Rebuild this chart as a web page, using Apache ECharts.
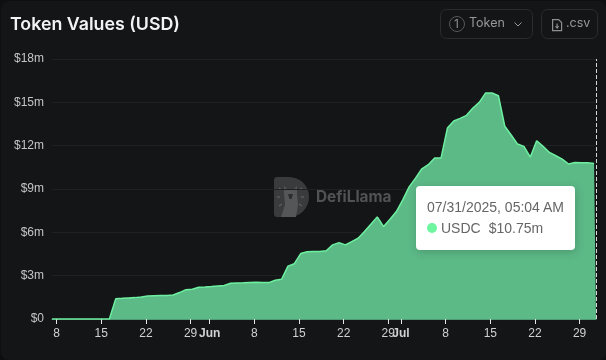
<!doctype html>
<html lang="en">

<head>
  <meta charset="UTF-8">
  <title>Token Values (USD)</title>
  <style>
    html, body { margin: 0; padding: 0; background: #0e0f10; }
    #chart {
      width: 605px;
      height: 359px;
      position: absolute;
      left: 1px;
      top: 1px;
      box-sizing: border-box;
      background: #141517;
      border-radius: 8px;
    }
  </style>
  <script src="https://cdn.jsdelivr.net/npm/echarts@6/dist/echarts.min.js"></script>
</head>

<body>
  <div id="chart"></div>
  <script>
    var FONT = 'Inter, sans-serif';
    var AXIS_FONT = '"Liberation Sans", Arial, sans-serif';

    // token value in $m, one reading per day from the first point
    var usdc = [
      0, 0, 0, 0, 0, 0, 0, 0, 0, 0,
      1.41, 1.43, 1.46, 1.48, 1.53, 1.59, 1.61, 1.62, 1.63, 1.66,
      1.83, 2.03, 2.06, 2.2, 2.22, 2.25, 2.29, 2.32, 2.47, 2.5,
      2.51, 2.53, 2.54, 2.52, 2.52, 2.68, 2.75, 3.66, 3.83, 4.53,
      4.65, 4.67, 4.68, 4.72, 5.13, 5.29, 5.13, 5.36, 5.59, 6.06,
      6.56, 7.07, 6.4, 6.91, 7.44, 8.25, 9.15, 9.75, 10.4, 10.68,
      11.14, 11.14, 13.22, 13.71, 13.89, 14.1, 14.61, 15.0, 15.65, 15.65,
      15.46, 13.34, 12.74, 12.11, 11.95, 11.21, 12.34, 11.95, 11.53, 11.3,
      11.07, 10.73, 10.84, 10.82, 10.81, 10.77, 10.75
    ];
    var firstPoint = Date.UTC(2025, 4, 7, 6, 30);
    var lastPoint = Date.UTC(2025, 6, 31, 13, 43);

    var tickDates = ['2025-05-08', '2025-05-15', '2025-05-22', '2025-05-29', '2025-06-01', '2025-06-08', '2025-06-15',
      '2025-06-22', '2025-06-29', '2025-07-01', '2025-07-08', '2025-07-15', '2025-07-22', '2025-07-29'];
    var tickLabels = ['8', '15', '22', '29', 'Jun', '8', '15', '22', '29', 'Jul', '8', '15', '22', '29'];
    var tickTimes = tickDates.map(function (d) { return Date.parse(d + 'T00:00:00Z'); });

    var tipDate = '07/31/2025, 05:04 AM';
    var tipName = 'USDC';
    var tipValue = '$10.75m';

    var seriesData = usdc.map(function (v, i) {
      var t = i === usdc.length - 1 ? lastPoint : firstPoint + i * 86400000;
      return [t, v];
    });

    var myChart = echarts.init(document.getElementById('chart'));

    var option = {
      animation: false,
      backgroundColor: 'transparent',
      textStyle: { fontFamily: AXIS_FONT },
      title: {
        text: 'Token Values (USD)',
        left: 9,
        top: 13,
        padding: 0,
        textStyle: { color: '#f2f3f4', fontSize: 17.8, fontWeight: 600, fontFamily: FONT, lineHeight: 22 }
      },
      grid: { left: 51, right: 10, top: 58, bottom: 41 },
      tooltip: {
        trigger: 'axis',
        alwaysShowContent: true,
        transitionDuration: 0,
        position: [415, 185],
        backgroundColor: '#fff',
        borderWidth: 0,
        padding: [11, 11],
        extraCssText: 'width:159px;height:64px;box-sizing:border-box;border-radius:4px;box-shadow:1px 2px 10px rgba(0,0,0,0.2);',
        axisPointer: {
          type: 'line',
          lineStyle: { color: '#d8d8d8', width: 1, type: 'dashed' },
          label: { show: false }
        },
        formatter: function () {
          return '<div style="font:14px/21px ' + AXIS_FONT.replace(/"/g, "'") + ';color:#666;white-space:nowrap">' + tipDate + '<br>' +
            '<span style="display:inline-block;width:10px;height:10px;border-radius:50%;background:#6df5a0;margin-right:4px"></span>' +
            tipName + '<span style="display:inline-block;width:8px"></span>' + tipValue + '</div>';
        }
      },
      xAxis: {
        type: 'value',
        min: firstPoint,
        max: lastPoint,
        axisLine: { show: true, onZero: false, lineStyle: { color: '#4f9a72', width: 1 } },
        splitLine: { show: false },
        axisTick: { show: true, length: 5, lineStyle: { color: '#e6e6e6' }, customValues: tickTimes },
        axisLabel: {
          customValues: tickTimes,
          hideOverlap: false,
          color: '#d0d1d2',
          fontSize: 12,
          fontFamily: AXIS_FONT,
          margin: 9,
          formatter: function (value) {
            var s = tickLabels[tickTimes.indexOf(value)];
            return s === 'Jun' || s === 'Jul' ? '{b|' + s + '}' : s;
          },
          rich: { b: { fontWeight: 700, fontSize: 12, color: '#d0d1d2', fontFamily: AXIS_FONT } }
        }
      },
      yAxis: {
        type: 'value',
        min: 0,
        max: 18,
        interval: 3,
        axisLine: { show: false },
        axisTick: { show: false },
        splitLine: { show: true, lineStyle: { color: '#1e2022', width: 1 } },
        axisLabel: {
          color: '#c4c5c6',
          fontSize: 12,
          fontFamily: AXIS_FONT,
          margin: 8,
          padding: [2, 0, 0, 0],
          formatter: function (v) { return v === 0 ? '$0' : '$' + v + 'm'; }
        }
      },
      series: [{
        name: tipName,
        type: 'line',
        symbol: 'none',
        data: seriesData,
        lineStyle: { color: '#6df0a0', width: 1.5 },
        itemStyle: { color: '#6df5a0' },
        areaStyle: { color: '#5cba87', opacity: 1 },
        emphasis: { disabled: true }
      }],
      graphic: [
        // watermark
        {
          type: 'group', left: 273, top: 176, z: 0, silent: true,
          children: [
            { type: 'rect', shape: { x: 0, y: 0, width: 15, height: 40, r: [3, 0, 0, 3] }, style: { fill: '#3a3b3c' } },
            { type: 'sector', shape: { cx: 15, cy: 20, r: 20, r0: 0, startAngle: -Math.PI / 2, endAngle: Math.PI / 2 }, style: { fill: '#3a3b3c' } },
            { type: 'polygon', shape: { points: [[10, 9], [13, 12], [20, 12], [23, 9], [23, 16], [24, 28], [22, 40], [7, 40], [11, 28], [10, 16]] }, style: { fill: '#555657' } },
            { type: 'polygon', shape: { points: [[14, 17], [19, 17], [17.5, 22], [15.5, 22]] }, style: { fill: '#2c2d2e' } },
            { type: 'line', shape: { x1: 5, y1: 11, x2: 8, y2: 13 }, style: { stroke: '#6a6b6c', lineWidth: 1 } },
            { type: 'line', shape: { x1: 28, y1: 11, x2: 25, y2: 13 }, style: { stroke: '#6a6b6c', lineWidth: 1 } },
            { type: 'line', shape: { x1: 3, y1: 20, x2: 6, y2: 20 }, style: { stroke: '#6a6b6c', lineWidth: 1 } },
            { type: 'line', shape: { x1: 30, y1: 20, x2: 27, y2: 20 }, style: { stroke: '#6a6b6c', lineWidth: 1 } },
            { type: 'line', shape: { x1: 5, y1: 29, x2: 8, y2: 27 }, style: { stroke: '#6a6b6c', lineWidth: 1 } },
            { type: 'line', shape: { x1: 28, y1: 29, x2: 25, y2: 27 }, style: { stroke: '#6a6b6c', lineWidth: 1 } }
          ]
        },
        {
          type: 'text', left: 315, top: 189, z: 0, silent: true,
          style: { text: 'DefiLlama', fill: '#515253', font: '700 15.4px ' + FONT }
        },
        // token button
        {
          type: 'rect', left: 439, top: 8, z: 10, silent: true,
          shape: { width: 92, height: 29, r: 6 },
          style: { fill: 'transparent', stroke: '#2a2c2e', lineWidth: 1 }
        },
        {
          type: 'circle', left: 448, top: 15, z: 10, silent: true,
          shape: { r: 7.5 },
          style: { fill: 'transparent', stroke: '#55585a', lineWidth: 1 }
        },
        {
          type: 'text', left: 453, top: 17, z: 10, silent: true,
          style: { text: '1', fill: '#8d8f91', font: '12px ' + FONT }
        },
        {
          type: 'text', left: 468, top: 16, z: 10, silent: true,
          style: { text: 'Token', fill: '#96989a', font: '12.5px ' + FONT }
        },
        {
          type: 'polyline', left: 513, top: 21, z: 10, silent: true,
          shape: { points: [[0, 0], [3.5, 3.5], [7, 0]] },
          style: { fill: 'transparent', stroke: '#96989a', lineWidth: 1 }
        },
        // csv button
        {
          type: 'rect', left: 540, top: 8, z: 10, silent: true,
          shape: { width: 56, height: 29, r: 6 },
          style: { fill: 'transparent', stroke: '#2a2c2e', lineWidth: 1 }
        },
        {
          type: 'group', left: 551, top: 18, z: 10, silent: true,
          children: [
            { type: 'polyline', shape: { points: [[1, 0], [6, 0], [9, 3], [9, 11], [0, 11], [0, 0], [1, 0]] }, style: { fill: 'transparent', stroke: '#8d8f91', lineWidth: 1.2 } },
            { type: 'polyline', shape: { points: [[4.5, 4], [4.5, 8.5]] }, style: { fill: 'transparent', stroke: '#8d8f91', lineWidth: 1.2 } },
            { type: 'polyline', shape: { points: [[3, 6.5], [4.5, 8.5], [6, 6.5]] }, style: { fill: 'transparent', stroke: '#8d8f91', lineWidth: 1.2 } }
          ]
        },
        {
          type: 'text', left: 565, top: 16, z: 10, silent: true,
          style: { text: '.csv', fill: '#96989a', font: '12.5px ' + FONT }
        }
      ]
    };

    myChart.setOption(option);
    myChart.dispatchAction({ type: 'showTip', seriesIndex: 0, dataIndex: usdc.length - 1 });
  </script>
</body>

</html>
